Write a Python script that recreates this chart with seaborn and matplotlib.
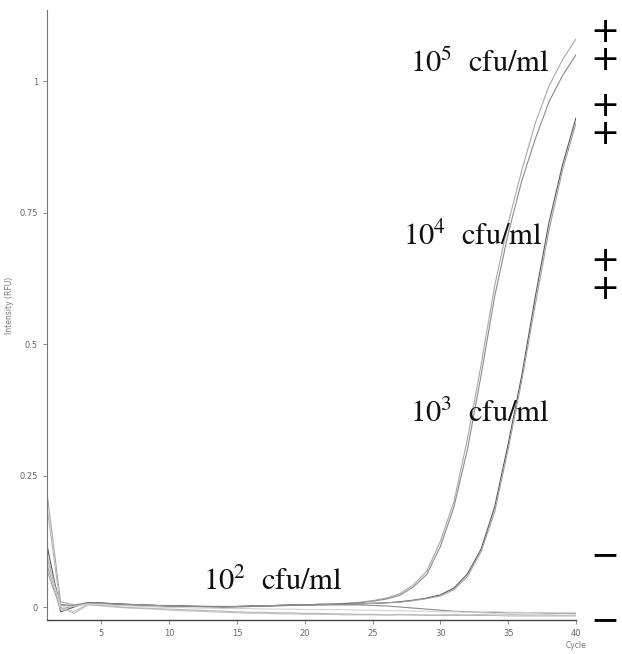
import numpy as np
import pandas as pd
import matplotlib
matplotlib.use("Agg")
import matplotlib.pyplot as plt
import seaborn as sns

cycles = list(range(1, 41))

s5a = [0.217, 0.010, 0.004, 0.008, 0.007, 0.006, 0.005, 0.004, 0.003, 0.003,
       0.002, 0.002, 0.001, 0.001, 0.001, 0.002, 0.002, 0.003, 0.004, 0.004,
       0.005, 0.006, 0.007, 0.009, 0.012, 0.017, 0.025, 0.042, 0.068, 0.125,
       0.200, 0.320, 0.460, 0.610, 0.730, 0.830, 0.920, 0.990, 1.040, 1.080]
s5b = [0.095, 0.005, 0.002, 0.008, 0.007, 0.006, 0.005, 0.004, 0.003, 0.002,
       0.002, 0.001, 0.001, 0.000, 0.001, 0.001, 0.002, 0.003, 0.003, 0.004,
       0.005, 0.005, 0.006, 0.008, 0.011, 0.015, 0.022, 0.038, 0.062, 0.115,
       0.190, 0.300, 0.440, 0.590, 0.710, 0.810, 0.890, 0.960, 1.010, 1.050]
s4a = [0.118, -0.009, 0.000, 0.008, 0.008, 0.006, 0.005, 0.004, 0.003, 0.002,
       0.002, 0.001, 0.001, 0.001, 0.001, 0.002, 0.002, 0.003, 0.004, 0.004,
       0.005, 0.005, 0.006, 0.006, 0.007, 0.008, 0.010, 0.013, 0.017, 0.023,
       0.036, 0.063, 0.110, 0.190, 0.310, 0.440, 0.590, 0.730, 0.840, 0.930]
s4b = [0.070, -0.004, 0.002, 0.007, 0.007, 0.005, 0.004, 0.004, 0.003, 0.002,
       0.001, 0.001, 0.000, 0.000, 0.001, 0.001, 0.002, 0.003, 0.003, 0.004,
       0.004, 0.005, 0.005, 0.006, 0.007, 0.008, 0.009, 0.012, 0.016, 0.021,
       0.033, 0.058, 0.105, 0.180, 0.300, 0.430, 0.575, 0.715, 0.830, 0.920]
s3a = [0.080, 0.003, 0.003, 0.007, 0.006, 0.005, 0.004, 0.003, 0.002, 0.002,
       0.001, 0.001, 0.000, 0.000, 0.000, 0.001, 0.001, 0.002, 0.003, 0.003,
       0.004, 0.004, 0.004, 0.004, 0.003, 0.002, 0.000, -0.002, -0.004, -0.006,
       -0.008, -0.009, -0.010, -0.010, -0.011, -0.011, -0.011, -0.012, -0.012, -0.012]
s3b = [0.100, -0.005, -0.008, 0.005, 0.002, 0.000, -0.002, -0.003, -0.004, -0.006,
       -0.007, -0.008, -0.009, -0.010, -0.011, -0.012, -0.012, -0.013, -0.013, -0.014,
       -0.014, -0.014, -0.015, -0.015, -0.015, -0.015, -0.014, -0.015, -0.015, -0.015,
       -0.014, -0.015, -0.014, -0.013, -0.014, -0.015, -0.015, -0.015, -0.016, -0.015]
s2a = [0.190, 0.000, -0.012, 0.004, 0.003, 0.001, -0.001, -0.002, -0.003, -0.004,
       -0.005, -0.006, -0.007, -0.008, -0.009, -0.010, -0.010, -0.011, -0.011, -0.012,
       -0.012, -0.013, -0.013, -0.014, -0.014, -0.015, -0.015, -0.015, -0.016, -0.016,
       -0.016, -0.016, -0.016, -0.016, -0.017, -0.017, -0.017, -0.017, -0.017, -0.017]
s2b = [0.085, 0.002, 0.001, 0.006, 0.005, 0.003, 0.002, 0.001, 0.000, -0.001,
       -0.001, -0.002, -0.002, -0.003, -0.003, -0.003, -0.004, -0.004, -0.004, -0.005,
       -0.005, -0.005, -0.005, -0.006, -0.006, -0.007, -0.007, -0.008, -0.008, -0.009,
       -0.009, -0.010, -0.010, -0.009, -0.010, -0.010, -0.011, -0.011, -0.011, -0.011]

series = {"s5a": s5a, "s5b": s5b, "s4a": s4a, "s4b": s4b,
          "s3a": s3a, "s3b": s3b, "s2a": s2a, "s2b": s2b}
colors = {"s5a": "#a8a8a8", "s5b": "#8c8c8c", "s4a": "#5a5a5a", "s4b": "#a0a0a0",
          "s3a": "#8a8a8a", "s3b": "#c4c4c4", "s2a": "#b8b8b8", "s2b": "#d0d0d0"}

labels = ["10$^5$  cfu/ml", "10$^4$  cfu/ml", "10$^3$  cfu/ml", "10$^2$  cfu/ml"]
label_pos = [(410, 72), (403, 245), (410, 422), (203, 590)]

yticks = [0, 0.25, 0.5, 0.75, 1]
yticklabels = ["0", "0.25", "0.5", "0.75", "1"]
xticks = [5, 10, 15, 20, 25, 30, 35, 40]

plus_pairs_y = [46, 120, 275]
minus_y = [555, 620]

rows = []
for name, vals in series.items():
    for c, v in zip(cycles, vals):
        rows.append({"Cycle": c, "RFU": v, "sample": name})
df = pd.DataFrame(rows)

sns.set_style("ticks")
plt.rcParams["mathtext.fontset"] = "stix"

W, H = 622, 654
fig = plt.figure(figsize=(W / 100, H / 100), dpi=100)
ax = fig.add_axes([47 / W, 1 - 620 / H, (576 - 47) / W, (620 - 10) / H])

sns.lineplot(data=df, x="Cycle", y="RFU", hue="sample", palette=colors,
             linewidth=0.8, legend=False, ax=ax)

ax.set_xlim(1, 40)
ax.set_ylim(-0.0247, 1.135)
ax.set_xticks(xticks)
ax.set_yticks(yticks)
ax.set_yticklabels(yticklabels)
ax.tick_params(axis="both", labelsize=6, colors="#777777", length=3, width=0.6,
               labelcolor="#666666")
for side in ["top", "right"]:
    ax.spines[side].set_visible(False)
ax.spines["left"].set_color("#777777")
ax.spines["bottom"].set_color("#444444")
ax.spines["left"].set_linewidth(0.8)
ax.spines["bottom"].set_linewidth(1.0)
ax.set_xlabel("")
ax.set_ylabel("")

fig.text(576 / W, 1 - 645 / H, "Cycle", fontsize=5.5, color="#777777",
         ha="center", va="center")
fig.text(10 / W, 1 - 305 / H, "Intensity (RFU)", fontsize=5.5, color="#777777",
         ha="center", va="center", rotation=90)

for txt, (px, py) in zip(labels, label_pos):
    fig.text(px / W, 1 - py / H, txt, fontsize=22, family="STIXGeneral",
             color="#111111", ha="left", va="baseline")

for py in plus_pairs_y:
    fig.text(605 / W, 1 - py / H, "+\n+", fontsize=25, color="black",
             ha="center", va="center", linespacing=0.78)
for py in minus_y:
    fig.text(605 / W, 1 - py / H, "\u2212", fontsize=25, color="black",
             ha="center", va="center")

fig.savefig("out.png", dpi=100, facecolor="white")
